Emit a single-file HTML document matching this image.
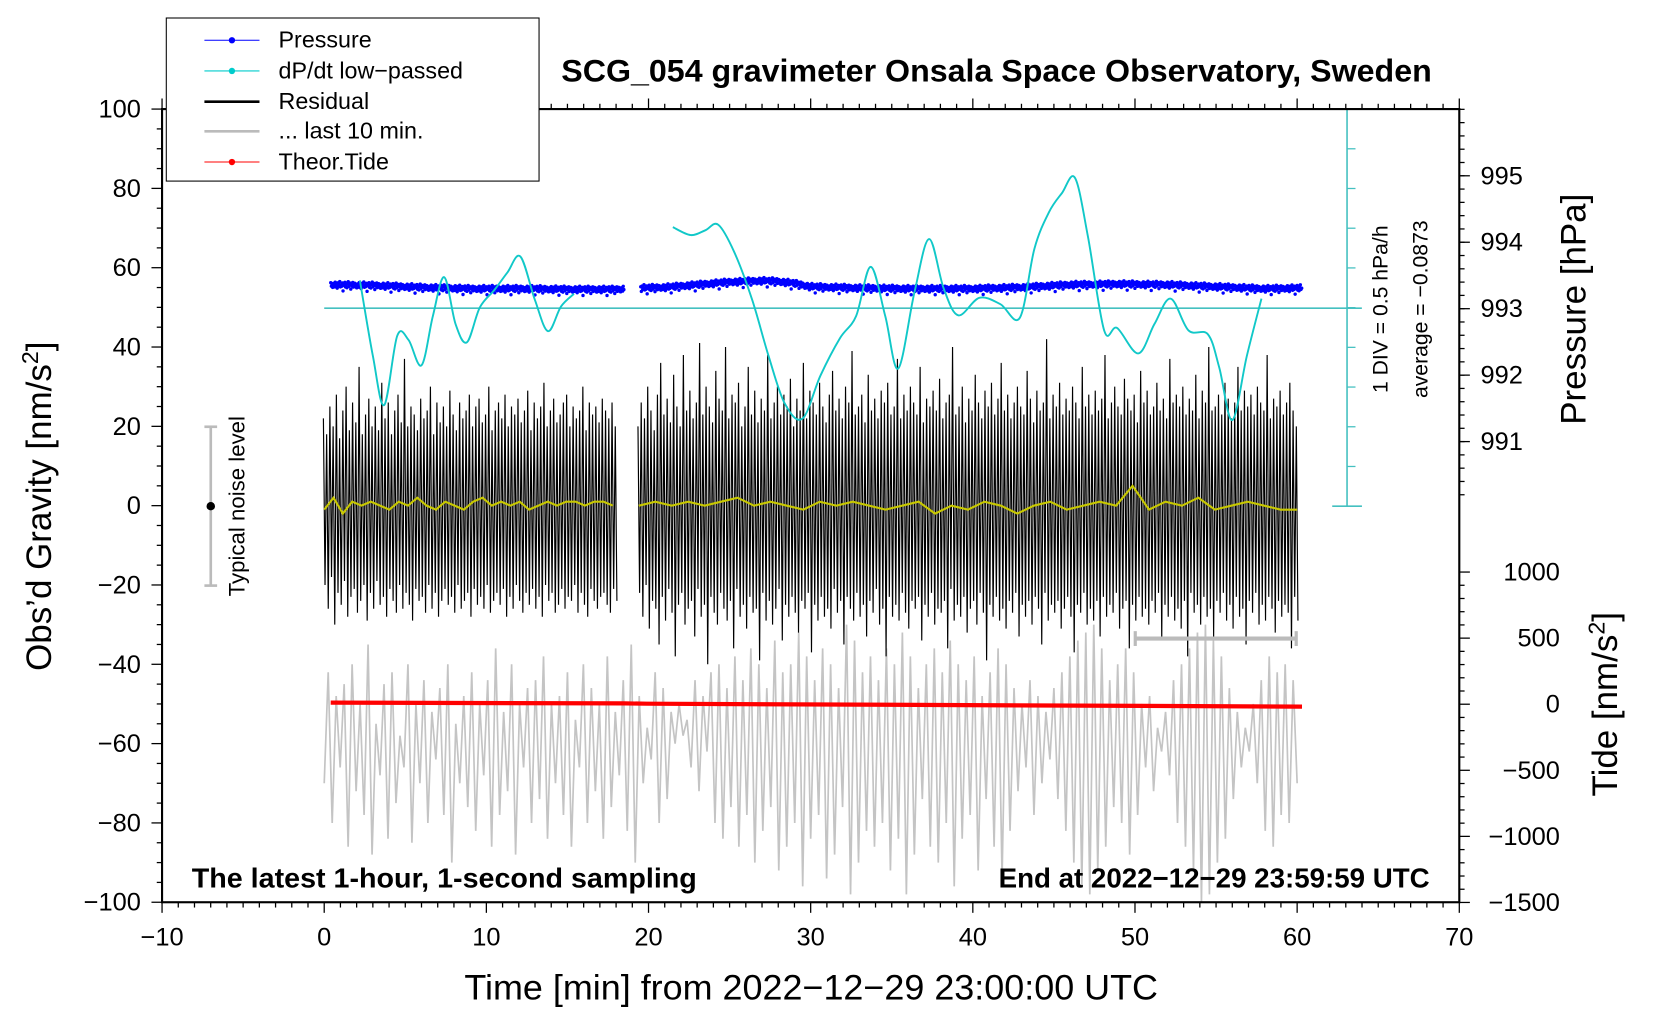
<!DOCTYPE html>
<html><head><meta charset="utf-8"><style>
html,body{margin:0;padding:0;background:#fff;}
svg{display:block;font-family:"Liberation Sans",Arial,sans-serif;}
</style></head><body>
<svg id="chart" xmlns="http://www.w3.org/2000/svg" width="1660" height="1020" viewBox="0 0 1567.5 963.2">
<rect x="0" y="0" width="1567.5" height="963.2" fill="#fff"/>
<g id="plot"></g>
<g id="axes"></g>
<text x="941" y="77" font-size="29.5" font-weight="bold" text-anchor="middle" textLength="822" lengthAdjust="spacingAndGlyphs">SCG_054 gravimeter Onsala Space Observatory, Sweden</text>
<text x="766" y="944" font-size="33" text-anchor="middle" textLength="655" lengthAdjust="spacingAndGlyphs">Time [min] from 2022−12−29 23:00:00 UTC</text>
<text transform="translate(48,478) rotate(-90)" font-size="33" text-anchor="middle">Obs’d Gravity [nm/s<tspan font-size="22" dy="-12">2</tspan><tspan dy="12">]</tspan></text>
<text transform="translate(1497,292) rotate(-90)" font-size="33" text-anchor="middle">Pressure [hPa]</text>
<text transform="translate(1527,665) rotate(-90)" font-size="33" text-anchor="middle">Tide [nm/s<tspan font-size="22" dy="-12">2</tspan><tspan dy="12">]</tspan></text>
<text x="181" y="838" font-size="26" font-weight="bold" textLength="477" lengthAdjust="spacingAndGlyphs">The latest 1-hour, 1-second sampling</text>
<text x="943" y="838" font-size="26" font-weight="bold" textLength="407" lengthAdjust="spacingAndGlyphs">End at 2022−12−29 23:59:59 UTC</text>
<text transform="translate(1310,292) rotate(-90)" font-size="20" text-anchor="middle">1 DIV = 0.5 hPa/h</text>
<text transform="translate(1348,292) rotate(-90)" font-size="20" text-anchor="middle">average = −0.0873</text>
<g>
<line x1="199" y1="403" x2="199" y2="553" stroke="#bbb" stroke-width="2.5"/>
<line x1="193" y1="403" x2="205" y2="403" stroke="#bbb" stroke-width="2.5"/>
<line x1="193" y1="553" x2="205" y2="553" stroke="#bbb" stroke-width="2.5"/>
<circle cx="199" cy="478" r="4" fill="#000"/>
<text transform="translate(231,478) rotate(-90)" font-size="21" text-anchor="middle">Typical noise level</text>
</g>
<g>
<line x1="1072" y1="603" x2="1224" y2="603" stroke="#bbb" stroke-width="4"/>
<line x1="1072" y1="596" x2="1072" y2="610" stroke="#bbb" stroke-width="3"/>
<line x1="1224" y1="596" x2="1224" y2="610" stroke="#bbb" stroke-width="3"/>
</g>
<g>
<rect x="157" y="17" width="352" height="154" fill="#fff" stroke="#000" stroke-width="1"/>
<g><line x1="193" y1="38" x2="245" y2="38" stroke="#00f" stroke-width="1"/><circle cx="219" cy="38" r="3" fill="#00f"/><text x="263" y="45" font-size="22">Pressure</text></g>
<g><line x1="193" y1="67" x2="245" y2="67" stroke="#0cc" stroke-width="1"/><circle cx="219" cy="67" r="3" fill="#0cc"/><text x="263" y="74" font-size="22">dP/dt low−passed</text></g>
<g><line x1="193" y1="96" x2="245" y2="96" stroke="#000" stroke-width="2.5"/><text x="263" y="103" font-size="22">Residual</text></g>
<g><line x1="193" y1="124" x2="245" y2="124" stroke="#bbb" stroke-width="2.5"/><text x="263" y="131" font-size="22">... last 10 min.</text></g>
<g><line x1="193" y1="153" x2="245" y2="153" stroke="#f00" stroke-width="1"/><circle cx="219" cy="153" r="3" fill="#f00"/><text x="263" y="160" font-size="22">Theor.Tide</text></g>
</g>
</svg>
<script>
const xTicks = [-10,0,10,20,30,40,50,60,70];
const yTicks = [-100,-80,-60,-40,-20,0,20,40,60,80,100];
const pTicks = [991,992,993,994,995];
const tideTicks = [-1500,-1000,-500,0,500,1000];
const dpdtT = [2.2,3.0,3.7,4.5,5.2,6.0,6.7,7.4,8.1,8.8,9.6,10.5,11.3,12.1,13.0,13.8,14.6,15.4];
const dpdtV = [0.35,-0.6,-1.22,-0.35,-0.4,-0.72,-0.1,0.39,-0.2,-0.43,0.01,0.23,0.45,0.65,0.1,-0.29,0.02,0.18];
const dpdtT2 = [21.5,22.6,23.5,24.3,25.3,26.4,27.4,28.4,29.5,30.6,31.8,32.8,33.7,34.6,35.4,36.4,37.3,38.2,39.1,40.4,41.7,42.9,43.8,44.7,45.5,46.3,47.1,48.1,48.9,50.2,51.2,52.2,53.3,54.5,55.2,56.0,56.9,57.8];
const dpdtV2 = [1.02,0.92,0.98,1.05,0.7,0.1,-0.6,-1.2,-1.39,-0.85,-0.38,-0.1,0.52,-0.1,-0.76,0.2,0.87,0.25,-0.09,0.13,0.05,-0.12,0.75,1.21,1.45,1.64,0.9,-0.28,-0.25,-0.57,-0.2,0.12,-0.28,-0.33,-0.75,-1.41,-0.6,0.12];
// residual envelope per 12-s bin (max / min)
const resHiA = [22,18,25,20,28,17,24,30,19,26,21,35,18,23,27,20,25,19,31,22,26,18,24,28,21,37,20,25,23,19,27,22,24,30,18,26,21,25,20,29,23,19,26,22,24,28,20,25,27,21,23,30,19,24,26,22,28,20,25,23,27,21,24,29,19,26,22,25,31,20,24,27,21,23,26,28,20,25,22,24,30,19,26,23,25,21,27,24,22,26,20];
const resLoA = [-20,-26,-18,-30,-22,-25,-19,-28,-23,-21,-27,-24,-20,-29,-22,-26,-19,-25,-23,-28,-21,-24,-27,-20,-26,-22,-25,-29,-21,-24,-23,-27,-20,-26,-22,-28,-24,-21,-25,-23,-27,-20,-26,-24,-22,-28,-21,-25,-23,-26,-20,-27,-24,-22,-25,-21,-28,-23,-26,-20,-24,-27,-22,-25,-21,-26,-23,-28,-20,-24,-22,-27,-25,-21,-26,-23,-24,-20,-27,-22,-25,-28,-21,-24,-26,-23,-22,-25,-27,-21,-24];
const resHiB = [20,26,22,30,24,19,28,36,23,27,21,33,25,20,38,24,29,22,26,41,23,30,25,21,34,27,24,40,22,28,26,31,20,25,35,23,29,21,27,24,38,22,26,30,23,28,25,32,20,27,24,36,22,29,26,23,31,25,21,28,34,24,27,22,30,26,39,23,25,28,21,33,24,27,22,29,26,31,23,25,37,22,28,24,30,26,23,35,21,27,25,29,24,32,22,26,28,40,23,25,30,21,27,24,33,26,22,29,25,31,23,27,36,24,28,22,26,30,25,23,34,27,21,29,24,26,42,22,28,25,31,23,27,24,30,26,22,35,25,28,23,29,24,27,38,22,26,30,25,23,32,27,24,28,21,34,26,29,23,25,31,24,27,22,37,26,28,25,30,23,27,24,33,22,29,26,40,24,25,28,23,31,27,22,26,35,24,29,25,28,23,30,26,24,38,22,27,25,29,23,26,31,24,20];
const resLoB = [-22,-28,-20,-31,-24,-26,-35,-23,-29,-21,-27,-38,-25,-22,-30,-26,-24,-33,-21,-28,-25,-40,-23,-27,-30,-22,-26,-29,-24,-36,-21,-28,-25,-31,-23,-27,-26,-39,-22,-29,-24,-30,-26,-21,-34,-25,-28,-23,-27,-32,-24,-26,-22,-37,-25,-29,-23,-28,-26,-31,-21,-27,-24,-35,-23,-26,-29,-22,-28,-25,-33,-24,-27,-21,-30,-26,-38,-23,-28,-25,-29,-22,-27,-31,-24,-26,-23,-34,-25,-28,-22,-30,-26,-27,-24,-36,-21,-29,-25,-28,-23,-32,-26,-24,-30,-22,-27,-39,-25,-28,-23,-29,-26,-31,-24,-27,-22,-33,-25,-28,-24,-30,-23,-26,-35,-22,-29,-25,-27,-24,-31,-26,-23,-28,-37,-25,-27,-22,-30,-26,-29,-24,-33,-23,-28,-25,-27,-22,-31,-26,-24,-36,-25,-29,-23,-28,-26,-30,-24,-27,-22,-34,-25,-28,-23,-29,-26,-31,-24,-38,-22,-27,-25,-30,-23,-28,-26,-33,-24,-27,-22,-29,-25,-31,-23,-28,-26,-35,-24,-27,-22,-30,-25,-29,-23,-26,-32,-24,-28,-25,-27,-36,-23,-29,-22];
const yelA = [-1,2,-2,1,0,1,0,-1,1,0,2,0,-1,1,0,-1,1,2,0,1,0,1,-1,0,1,0,1,1,0,1,1,0];
const yelB = [0,1,0,1,0,1,2,0,1,0,-1,1,0,1,0,-1,0,1,-2,0,-1,1,0,-2,0,1,-1,0,1,0,5,-1,1,0,2,-1,0,1,0,-1,-1];
const grayV = [-70,-42,-80,-48,-66,-45,-86,-40,-72,-50,-78,-35,-88,-55,-68,-45,-84,-42,-75,-58,-66,-40,-85,-50,-70,-44,-80,-52,-64,-46,-78,-40,-90,-55,-70,-48,-76,-42,-82,-50,-68,-44,-86,-36,-78,-52,-72,-40,-88,-50,-66,-46,-80,-44,-74,-38,-84,-50,-70,-48,-78,-42,-86,-54,-66,-40,-80,-46,-72,-50,-84,-38,-76,-52,-68,-44,-82,-35,-90,-48,-70,-56,-64,-42,-80,-46,-74,-52,-60,-50,-58,-54,-66,-44,-72,-48,-62,-42,-80,-40,-84,-46,-76,-38,-86,-44,-78,-36,-90,-40,-82,-46,-76,-34,-92,-42,-86,-40,-80,-32,-96,-38,-84,-44,-78,-36,-94,-40,-88,-46,-76,-30,-98,-34,-90,-42,-82,-38,-86,-44,-80,-36,-92,-40,-84,-32,-98,-38,-88,-46,-74,-40,-86,-36,-90,-42,-80,-34,-96,-40,-84,-44,-78,-38,-92,-48,-74,-42,-86,-36,-94,-40,-82,-46,-72,-50,-66,-44,-78,-48,-70,-52,-64,-46,-74,-42,-82,-38,-90,-34,-96,-32,-98,-30,-92,-36,-86,-44,-76,-40,-80,-36,-88,-42,-78,-50,-66,-48,-72,-56,-62,-52,-68,-44,-80,-40,-86,-36,-92,-32,-100,-30,-98,-34,-90,-38,-84,-46,-74,-52,-66,-56,-62,-50,-70,-44,-82,-38,-86,-42,-78,-40,-80,-44,-70];
const presT = [0.4,3,6,9,12,15,18,19.5,21,23,25,27,28,29,30,33,36,40,43,46,49,52,55,58,60.3];
const presV = [993.36,993.35,993.32,993.30,993.30,993.29,993.29,993.31,993.32,993.36,993.40,993.42,993.41,993.38,993.33,993.31,993.30,993.30,993.32,993.36,993.37,993.36,993.33,993.30,993.31];
const presJitter = [0.03,-0.02,0.01,-0.04,0.02,0.00,-0.03,0.04,-0.01,0.02,-0.05,0.03,-0.02,0.01,0.05,-0.03,0.00,-0.02,0.03,-0.09,0.02,-0.01,0.04,-0.03,0.01,-0.04,0.02,0.05,-0.02,0.00,0.03,-0.06,0.01,-0.01,0.04,-0.03,0.02];
const tideT = [0.4,18.5,19.9,60.3];
const tideV = [12,6,4,-18];

const NS='http://www.w3.org/2000/svg';
const X = t => 153 + (t + 10) * 15.3125;
const Y = g => 477.5 - g * 3.745;
const YP = p => 166 + (995 - p) * 62.75;
const YT = v => 665 - v * 0.1248;
const YD = v => 291 - v / 0.5 * 37.5;
const plot = document.getElementById('plot');
const axes = document.getElementById('axes');
function mk(tag, attrs, parent){const e=document.createElementNS(NS,tag);for(const k in attrs)e.setAttribute(k,attrs[k]);parent.appendChild(e);return e;}
function lerp(ts, vs, t){for(let i=0;i<ts.length-1;i++){if(t>=ts[i]&&t<=ts[i+1]){const f=(t-ts[i])/(ts[i+1]-ts[i]);return vs[i]+f*(vs[i+1]-vs[i]);}}return vs[vs.length-1];}
function smoothPath(pts){let d='M'+pts[0][0]+','+pts[0][1];for(let i=0;i<pts.length-1;i++){const p0=pts[i-1]||pts[i],p1=pts[i],p2=pts[i+1],p3=pts[i+2]||p2;d+=' C'+(p1[0]+(p2[0]-p0[0])/6)+','+(p1[1]+(p2[1]-p0[1])/6)+' '+(p2[0]-(p3[0]-p1[0])/6)+','+(p2[1]-(p3[1]-p1[1])/6)+' '+p2[0]+','+p2[1];}return d;}
function span(n,a,b){const r=[];for(let i=0;i<n;i++)r.push(a+(b-a)*i/(n-1));return r;}
function envPath(hi,lo,t0,t1){const ts=span(hi.length,t0,t1);const dt=(t1-t0)/(hi.length-1);let d='';ts.forEach((t,i)=>{d+=(i?'L':'M')+X(t-dt/4).toFixed(2)+','+Y(hi[i]).toFixed(2)+' L'+X(t+dt/4).toFixed(2)+','+Y(lo[i]).toFixed(2)+' ';});return d;}
function linePath(ts, vs, fy){return vs.map((v,i)=>(i?'L':'M')+X(ts[i]).toFixed(2)+','+fy(v).toFixed(2)).join(' ');}

const gp = mk('path',{d:linePath(span(grayV.length,0,60),grayV,Y),fill:'none',stroke:'#c4c4c4','stroke-width':1.6},plot);


const r1 = mk('path',{d:envPath(resHiA,resLoA,0,18),fill:'none',stroke:'#000','stroke-width':1.1},plot);


const r2 = mk('path',{d:envPath(resHiB,resLoB,19.4,60),fill:'none',stroke:'#000','stroke-width':1.1},plot);


const y1 = mk('path',{d:linePath(span(yelA.length,0,17.8),yelA,Y),fill:'none',stroke:'#c8c800','stroke-width':2},plot);


const y2 = mk('path',{d:linePath(span(yelB.length,19.4,60),yelB,Y),fill:'none',stroke:'#c8c800','stroke-width':2},plot);


const tp = mk('path',{d:linePath(tideT,tideV,YT),fill:'none',stroke:'#f00','stroke-width':4},plot);


const zl = mk('line',{x1:X(0),y1:YD(0),x2:1286,y2:YD(0),stroke:'#44c0c0','stroke-width':1.5},plot);


const ca = mk('g',{},plot);


mk('line',{x1:1272,y1:103,x2:1272,y2:478,stroke:'#44c0c0','stroke-width':1.5},ca);
for(let i=0;i<=10;i++){const yy=103+i*37.5;mk('line',{x1:1272,y1:yy,x2:(i==0||i==10)?1286:1280,y2:yy,stroke:'#44c0c0','stroke-width':1.2},ca);}
mk('line',{x1:1258,y1:478,x2:1286,y2:478,stroke:'#44c0c0','stroke-width':1.5},ca);
const pg = mk('g',{fill:'#00f'},plot);


let k=0;
for(let t=0.4;t<=60.3;t+=0.04){ if(t>18.5&&t<19.5) continue; const p=lerp(presT,presV,t)+presJitter[k%presJitter.length]; k++; mk('circle',{cx:X(t).toFixed(1),cy:YP(p).toFixed(1),r:1.6},pg);}
const d1 = mk('path',{d:smoothPath(dpdtT.map((t,i)=>[X(t),YD(dpdtV[i])])),fill:'none',stroke:'#11c8c8','stroke-width':1.8},plot);


const d2 = mk('path',{d:smoothPath(dpdtT2.map((t,i)=>[X(t),YD(dpdtV2[i])])),fill:'none',stroke:'#11c8c8','stroke-width':1.8},plot);



const fr = mk('rect',{x:153,y:103,width:1225,height:749,fill:'none',stroke:'#000','stroke-width':2},axes);


for(let t=-10;t<=70;t+=1){const maj=t%10===0;mk('line',{x1:X(t),y1:852,x2:X(t),y2:maj?862:857,stroke:'#000','stroke-width':1.2},axes);mk('line',{x1:X(t),y1:103,x2:X(t),y2:maj?93:98,stroke:'#000','stroke-width':1.2},axes);}
xTicks.forEach(t=>{const e=mk('text',{x:X(t),y:893,'font-size':24,'text-anchor':'middle'},axes);e.textContent=(t<0?'−':'')+Math.abs(t);

});
for(let g=-100;g<=100;g+=5){const maj=g%20===0;mk('line',{x1:153,y1:Y(g),x2:maj?143:148,y2:Y(g),stroke:'#000','stroke-width':1.2},axes);}
yTicks.forEach(g=>{const e=mk('text',{x:133,y:Y(g)+8,'font-size':24,'text-anchor':'end'},axes);e.textContent=(g<0?'−':'')+Math.abs(g);

});
for(let p=989.4;p<=996.6;p+=0.2){const yy=YP(p);if(yy<103||yy>478)continue;mk('line',{x1:1378,y1:yy,x2:1383,y2:yy,stroke:'#000','stroke-width':1.2},axes);}
pTicks.forEach(p=>{mk('line',{x1:1378,y1:YP(p),x2:1388,y2:YP(p),stroke:'#000','stroke-width':1.2},axes);const e=mk('text',{x:1398,y:YP(p)+8,'font-size':24},axes);e.textContent=p;

});
for(let v=-1500;v<=1000;v+=100){mk('line',{x1:1378,y1:YT(v),x2:v%500===0?1388:1383,y2:YT(v),stroke:'#000','stroke-width':1.2},axes);}
tideTicks.forEach(v=>{const e=mk('text',{x:1473,y:YT(v)+8,'font-size':24,'text-anchor':'end'},axes);e.textContent=(v<0?'−':'')+Math.abs(v);

});
</script>
</body></html>
